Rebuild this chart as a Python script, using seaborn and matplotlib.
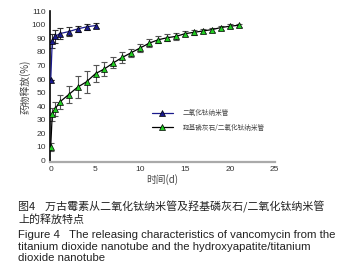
import matplotlib
matplotlib.use("Agg")
import matplotlib.pyplot as plt
import seaborn as sns
import pandas as pd
from matplotlib.lines import Line2D

# ---- data ----
blue_days = [0, 0.17, 0.5, 1, 2, 3, 4, 5]
blue_vals = [59, 88, 91.5, 93.5, 95, 97, 98.5, 99.5]
blue_err = [0, 5, 5, 4, 3.5, 2.5, 2, 1.5]

green_days = [0, 0.17, 0.5, 1, 2, 3, 4, 5, 6, 7, 8, 9, 10, 11, 12, 13, 14,
              15, 16, 17, 18, 19, 20, 21]
green_vals = [10, 34, 38, 43, 48.5, 54, 58, 64, 67.5, 72, 76, 79.5, 83, 86.5,
              89, 90.5, 91.5, 93.5, 94.5, 95.5, 96.5, 98, 99, 99.7]
green_err = [3, 5, 5, 5, 6, 8, 8, 6, 5, 4, 4, 3, 3, 3, 2.5, 2.5, 2.5, 2, 2,
             1.5, 1.5, 1.5, 1.5, 1]

series_names = ["二氧化钛纳米管", "羟基磷灰石/二氧化钛纳米管"]
x_ticks = [0, 5, 10, 15, 20, 25]
y_ticks = [0, 10, 20, 30, 40, 50, 60, 70, 80, 90, 100, 110]
x_label = "时间(d)"
y_label = "药物释放(%)"
caption_cn = ["图4    万古霉素从二氧化钛纳米管及羟基磷灰石/二氧化钛纳米管",
              "上的释放特点"]
caption_en = ["Figure 4   The releasing characteristics of vancomycin from the",
              "titanium dioxide nanotube and the hydroxyapatite/titanium",
              "dioxide nanotube"]

sns.set_theme(style="white")
cjk = ["Noto Sans CJK SC", "DejaVu Sans"]
plt.rcParams["font.family"] = ["Liberation Sans", "Noto Sans CJK SC", "DejaVu Sans"]

W, H = 352, 276
fig = plt.figure(figsize=(W / 100, H / 100), dpi=100)
ax = fig.add_axes([50 / W, (H - 161.7) / H, 224.7 / W, 150.4 / H])

blue_c = "#1a1a8c"
green_c = "#22cc22"

df_b = pd.DataFrame({"day": blue_days, "val": blue_vals})
df_g = pd.DataFrame({"day": green_days, "val": green_vals})

ax.errorbar(blue_days, blue_vals, yerr=blue_err, fmt="none", ecolor="#333333",
            elinewidth=0.8, capsize=2.2, capthick=0.8, zorder=2)
ax.errorbar(green_days, green_vals, yerr=green_err, fmt="none", ecolor="#555555",
            elinewidth=0.8, capsize=2.2, capthick=0.8, zorder=2)

sns.lineplot(data=df_b, x="day", y="val", ax=ax, color=blue_c, linewidth=0.9,
             marker="^", markersize=4.5, markerfacecolor=blue_c,
             markeredgecolor="black", markeredgewidth=0.5, zorder=3)
sns.lineplot(data=df_g, x="day", y="val", ax=ax, color="black", linewidth=0.9,
             marker="^", markersize=4.5, markerfacecolor=green_c,
             markeredgecolor="black", markeredgewidth=0.5, zorder=3)

ax.set_xlim(-0.08, 25)
ax.set_ylim(-1, 110)
ax.set_xticks(x_ticks)
ax.set_yticks(y_ticks)
ax.tick_params(axis="both", direction="in", length=3, width=0.8, labelsize=6,
               labelcolor="#333333", color="#222222", pad=3)
for s in ["top", "right"]:
    ax.spines[s].set_visible(False)
ax.spines["left"].set_color("black")
ax.spines["left"].set_linewidth(1.2)
ax.spines["bottom"].set_color("#aaaaaa")
ax.spines["bottom"].set_linewidth(1.6)

ax.set_xlabel(x_label, fontsize=7, color="#444444", family=cjk, labelpad=1)
ax.set_ylabel(y_label, fontsize=7, color="#444444", family=cjk, labelpad=0.5)

handles = [
    Line2D([], [], color=blue_c, linewidth=0.9, marker="^", markersize=4.5,
           markerfacecolor=blue_c, markeredgecolor="black", markeredgewidth=0.5),
    Line2D([], [], color="black", linewidth=0.9, marker="^", markersize=4.5,
           markerfacecolor=green_c, markeredgecolor="black", markeredgewidth=0.5),
]
fig.legend(handles, series_names, loc="upper left",
           bbox_to_anchor=(151.5 / W, 1 - 109 / H), frameon=False,
           prop={"family": cjk, "size": 4.8}, handlelength=3.2,
           handletextpad=1.5, labelspacing=1.0, borderpad=0, borderaxespad=0,
           labelcolor="#444444")

for txt, yc in zip(caption_cn, [207, 220]):
    fig.text(18 / W, 1 - yc / H, txt, family=cjk, fontsize=7.9, color="#222222",
             va="center", ha="left")
for txt, yc in zip(caption_en, [235, 246.5, 258]):
    fig.text(18 / W, 1 - yc / H, txt, family="Liberation Sans", fontsize=8.2,
             color="#222222", va="center", ha="left")

fig.savefig("out.png", dpi=100)
